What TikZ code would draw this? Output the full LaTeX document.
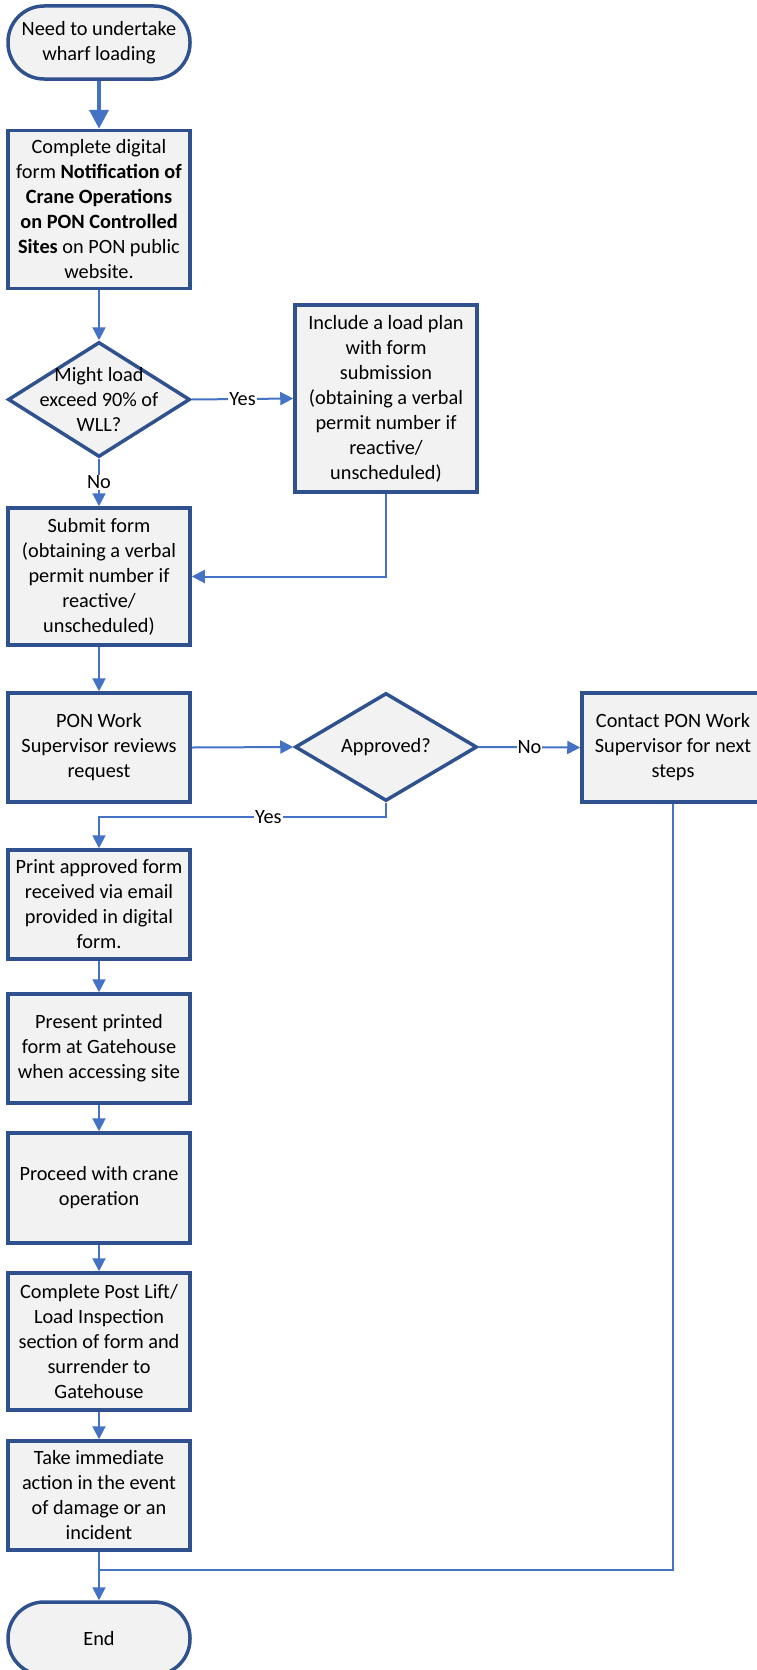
\documentclass[tikz,border=0pt]{standalone}
\usepackage{fontspec}
\setmainfont{Carlito}
\usetikzlibrary{arrows.meta,shapes.geometric}
\definecolor{bordblue}{RGB}{47,82,143}
\definecolor{connblue}{RGB}{68,114,196}
\definecolor{boxfill}{RGB}{242,242,242}
\begin{document}
\begin{tikzpicture}[x=1pt,y=-1pt,
  every node/.style={font=\fontsize{20.3}{25}\selectfont, align=center},
  box/.style={draw=bordblue, fill=boxfill, line width=3.5pt, minimum width=182pt, inner sep=2pt},
  term/.style={box, rounded corners=36pt, minimum height=73pt},
  dia/.style={draw=bordblue, fill=boxfill, line width=3.5pt, diamond, minimum width=182pt, inner sep=0pt},
  lbl/.style={fill=white, inner sep=1pt},
  link/.style={draw=connblue, line width=2pt},
  conn/.style={link, -{Triangle[length=13pt,width=13pt]}},
  thickconn/.style={draw=connblue, line width=4pt, -{Triangle[length=19pt,width=19pt]}}
]
\useasboundingbox (0,0) rectangle (756,1670);

\node[term] (start) at (99,42.5) {Need to undertake\\wharf loading};
\node[box, minimum height=158pt] (form) at (99,209.5) {Complete digital\\form \textbf{Notification of}\\\textbf{Crane Operations}\\\textbf{on PON Controlled}\\\textbf{Sites} on PON public\\website.};
\node[dia, minimum height=115pt] (d1) at (99,399.5) {};
\node at (d1) {Might load\\exceed 90\% of\\WLL?};
\node[box, minimum height=187pt] (inc) at (386,398.5) {Include a load plan\\with form\\submission\\(obtaining a verbal\\permit number if\\reactive/\\unscheduled)};
\node[box, minimum height=137pt] (submit) at (99,576.5) {Submit form\\(obtaining a verbal\\permit number if\\reactive/\\unscheduled)};
\node[box, minimum height=109pt] (pon) at (99,747.5) {PON Work\\Supervisor reviews\\request};
\node[dia, minimum height=108pt] (appr) at (386,747) {};
\node at (appr) {Approved?};
\node[box, minimum height=109pt] (contact) at (673,747.5) {Contact PON Work\\Supervisor for next\\steps};
\node[box, minimum height=109pt] (print) at (99,904.5) {Print approved form\\received via email\\provided in digital\\form.};
\node[box, minimum height=109pt] (present) at (99,1048.5) {Present printed\\form at Gatehouse\\when accessing site};
\node[box, minimum height=110pt] (proceed) at (99,1188) {Proceed with crane\\operation};
\node[box, minimum height=137pt] (post) at (99,1341.5) {Complete Post Lift/\\Load Inspection\\section of form and\\surrender to\\Gatehouse};
\node[box, minimum height=109pt] (take) at (99,1495.5) {Take immediate\\action in the event\\of damage or an\\incident};
\node[term] (end) at (99,1638.5) {End};

\coordinate (y1) at (386,817);
\coordinate (y2) at (99,817);
\coordinate (j) at (99,1570);

\draw[thickconn] (start.south) -- (form.north);
\draw[conn] (form.south) -- (d1.north);
\draw[conn] (d1.east) -- node[lbl]{Yes} (inc.west);
\draw[conn] (d1.south) -- node[lbl]{No} (submit.north);
\draw[conn] (inc.south) |- (submit.east);
\draw[conn] (submit.south) -- (pon.north);
\draw[conn] (pon.east) -- (appr.west);
\draw[conn] (appr.east) -- node[lbl]{No} (contact.west);
\draw[conn] (appr.south) -- (y1) -- node[lbl, pos=0.41]{Yes} (y2) -- (print.north);
\draw[conn] (print.south) -- (present.north);
\draw[conn] (present.south) -- (proceed.north);
\draw[conn] (proceed.south) -- (post.north);
\draw[conn] (post.south) -- (take.north);
\draw[link] (contact.south) |- (j);
\draw[conn] (take.south) -- (end.north);
\end{tikzpicture}
\end{document}
